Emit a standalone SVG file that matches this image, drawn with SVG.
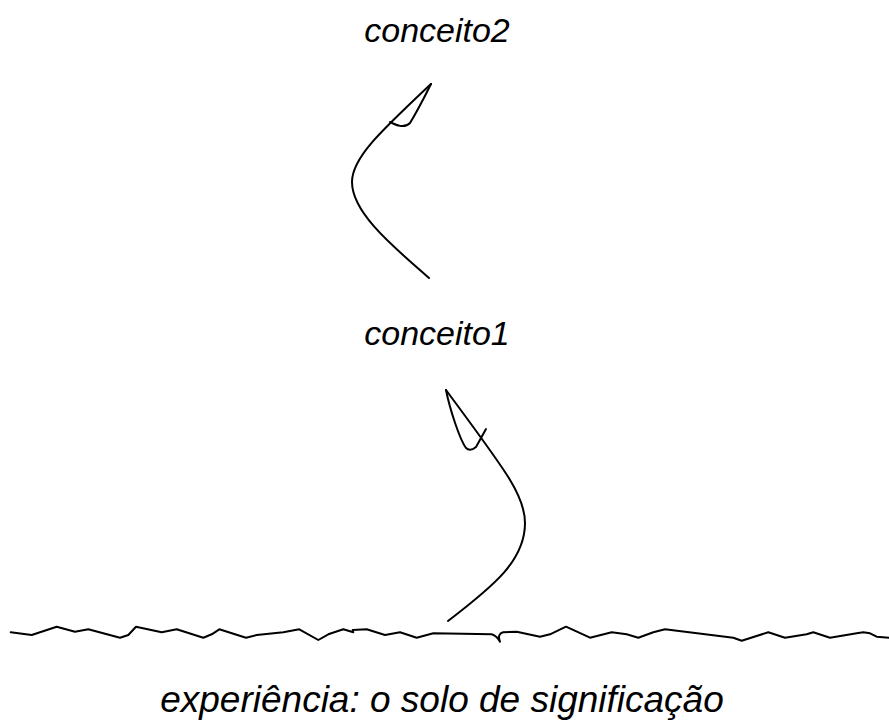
<svg xmlns="http://www.w3.org/2000/svg" width="889" height="724" viewBox="0 0 889 724">
<style>
.t{font-family:"Liberation Sans",Arial,sans-serif;font-style:italic;fill:#000;text-anchor:middle}
.s{fill:none;stroke:#000;stroke-width:2;stroke-linejoin:round;stroke-linecap:round}
</style>
<rect width="889" height="724" fill="#fff"/>
<g id="conceito2"><text class="t" x="437" y="42" font-size="34">conceito2</text></g>
<g id="conceito1"><text class="t" x="437" y="345" font-size="34">conceito1</text></g>
<g id="experiencia"><text class="t" x="442" y="712" font-size="37">experiência: o solo de significação</text></g>
<g id="ground">
<path class="s" d="M10.7,632.3 L31.7,635 L56.7,626.7 L75,631.7 L88.3,629.3 L120,637.7 L128.3,635 L136,626.7 L161.7,632.3 L176.7,629.3 L203.3,637.7 L211.7,634.3 L219.3,629.3 L246,637.7 L256.7,635 L283.3,632.3 L299.3,629.3 L318.3,640 L328.3,634.3 L343.3,629.3 L353.3,632.3 L352.7,630 L366.7,629.3 L385,635 L400,632.3 L416.7,637.7 L433.3,633.3 L491.7,634.3 Q497,636 500,641.7 Q497,634 503,632.3 L516.7,631.7 L540,636.7 L550,634.3 L566,626.7 L590,637.7 L611.7,632.3 L626.7,634.3 L638.3,637.7 L653.3,632.3 L665,629.3 L733.3,637.7 L741.7,640.7 L768.3,632.3 L785,637.7 L806.7,634.3 L813.3,632.3 L830,637.7 L856.7,633.3 L863.3,632.3 L870,633.3 L876.7,636.7 L889,637.7"/>
</g>
<g id="connectors">
<path class="s" d="M429,278 C400,252 352,215 352,182 C352,158 380,132 431,84"/>
<path class="s" d="M390,122 C396,125 404,129 410,123 Q418,110 431,84"/>
<path class="s" d="M448,621 C495,585 525,560 525,523 C525,495 505,470 446,390"/>
<path class="s" d="M446,390 C450,410 460,440 466,448 Q470,452 476,447 L486,429"/>
</g>
</svg>
